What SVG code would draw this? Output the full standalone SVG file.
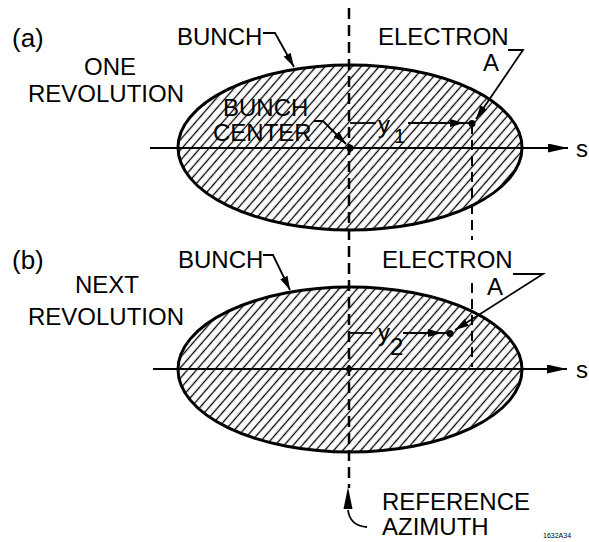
<svg xmlns="http://www.w3.org/2000/svg" width="589" height="542" viewBox="0 0 589 542">
<style>
text{font-family:"Liberation Sans",Arial,sans-serif;font-size:24px;fill:#000}
.bunch{fill:url(#hatch);stroke:#000;stroke-width:3}
.axis{stroke:#000;stroke-width:2;fill:none}
.dash{stroke:#000;stroke-width:2.5;stroke-dasharray:11 6;fill:none}
.dash2{stroke:#000;stroke-width:2;stroke-dasharray:10 6;fill:none}
.lead{stroke:#000;stroke-width:1.8;fill:none}
.dot{fill:#000}
</style>
<defs>
<pattern id="hatch" width="6.8" height="20" patternUnits="userSpaceOnUse" patternTransform="rotate(41)">
<line x1="3.4" y1="0" x2="3.4" y2="20" stroke="#000" stroke-width="1.3"/>
</pattern>
<marker id="arr" viewBox="0 0 14 8" refX="14" refY="4" markerWidth="14" markerHeight="8" markerUnits="userSpaceOnUse" orient="auto">
<path d="M0,0 L14,4 L0,8 Z" fill="#000"/>
</marker>
<marker id="arrBig" viewBox="0 0 20 9" refX="20" refY="4.5" markerWidth="20" markerHeight="9" markerUnits="userSpaceOnUse" orient="auto">
<path d="M0,0 L20,4.5 L0,9 Z" fill="#000"/>
</marker>
</defs>
<rect width="589" height="542" fill="#fff"/>

<g id="bunch-a">
<ellipse class="bunch" cx="350" cy="147.5" rx="172" ry="82.5"/>
</g>
<g id="bunch-b">
<ellipse class="bunch" cx="350" cy="369.5" rx="172" ry="82.5"/>
</g>

<g id="connectors">
<path class="axis" d="M150,148 L568,148" marker-end="url(#arrBig)"/>
<path class="axis" d="M153,369 L567,369" marker-end="url(#arrBig)"/>
<path class="dash" d="M349,8 L349,488"/>
<path class="dash2" d="M472,124 L472,240"/>
<path class="dash2" d="M472,283 L472,367"/>
<path class="lead" d="M348,510 Q350,526 367,527"/>
<path d="M348,487 L352.5,509 L343.5,509 Z" fill="#000"/>
<path class="lead" d="M263,33 L275,33 L294,67" marker-end="url(#arr)"/>
<path class="lead" d="M263,255 L273,255 L290,290" marker-end="url(#arr)"/>
<path class="lead" d="M314,121 L323,121 L346,144" marker-end="url(#arr)"/>
<path class="lead" d="M350,123 L376,123"/>
<path class="lead" d="M408,123 L464,123" marker-end="url(#arr)"/>
<path class="lead" d="M464,123 L472,123"/>
<path class="lead" d="M508,50 L523,50 L476,119" marker-end="url(#arr)"/>
<path class="lead" d="M350,333 L372,333"/>
<path class="lead" d="M403,333 L442,333" marker-end="url(#arr)"/>
<path class="lead" d="M442,333 L450,333"/>
<path class="lead" d="M513,274 L543,274 L455,330" marker-end="url(#arr)"/>
</g>

<g id="points">
<circle class="dot" cx="350" cy="148" r="3.5"/>
<circle class="dot" cx="472" cy="123.5" r="3.5"/>
<circle class="dot" cx="349" cy="369" r="3"/>
<circle class="dot" cx="450" cy="333.5" r="3.5"/>
</g>

<g id="labels-a">
<text x="12" y="47" style="font-size:26px">(a)</text>
<text x="177" y="45">BUNCH</text>
<text x="84" y="75">ONE</text>
<text x="28" y="102">REVOLUTION</text>
<text x="223" y="116">BUNCH</text>
<text x="213" y="141">CENTER</text>
<text x="378" y="45">ELECTRON</text>
<text x="483" y="71">A</text>
<text x="378" y="133">y</text>
<text x="394" y="143" style="font-size:20px">1</text>
<text x="576" y="157">s</text>
</g>

<g id="labels-b">
<text x="12" y="269" style="font-size:26px">(b)</text>
<text x="178" y="268">BUNCH</text>
<text x="75" y="293">NEXT</text>
<text x="28" y="325">REVOLUTION</text>
<text x="382" y="268">ELECTRON</text>
<text x="487" y="295">A</text>
<text x="378" y="341">y</text>
<text x="390" y="355">2</text>
<text x="576" y="378">s</text>
</g>

<g id="label-reference">
<text x="382" y="510">REFERENCE</text>
<text x="382" y="535">AZIMUTH</text>
<text x="543" y="538" style="font-size:7px">1632A34</text>
</g>
</svg>
